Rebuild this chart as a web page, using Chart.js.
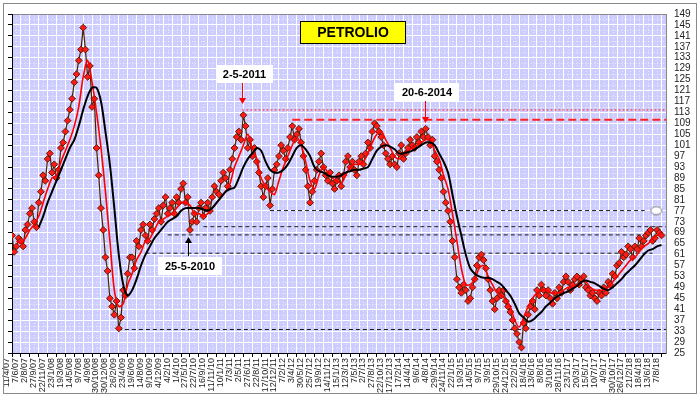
<!DOCTYPE html>
<html>
<head>
<meta charset="utf-8">
<script src="https://cdn.jsdelivr.net/npm/chart.js@4.4.0/dist/chart.umd.min.js"></script>
<style>
  html, body { margin: 0; background: #fff; }
  #wrap { width: 700px; height: 398px; }
</style>
</head>
<body>
<div id="wrap"><canvas id="chart" width="700" height="398"></canvas></div>
<script>
// x axis: one label every ~40 sessions, values are sampled every half label step
const dateLabels = ['11/4/07','7/6/07','2/8/07','27/9/07','22/11/07','23/1/08','19/3/08','14/5/08','9/7/08','4/9/08',
  '30/10/08','30/12/08','26/2/09','23/4/09','19/6/09','14/8/09','9/10/09','4/12/09','4/2/10','1/4/10',
  '27/5/10','22/7/10','16/9/10','11/11/10','10/1/11','7/3/11','2/5/11','27/6/11','22/8/11','17/10/11',
  '12/12/11','7/2/12','3/4/12','30/5/12','25/7/12','19/9/12','14/11/12','15/1/13','12/3/13','7/5/13',
  '2/7/13','27/8/13','22/10/13','17/12/13','17/2/14','14/4/14','9/6/14','4/8/14','29/9/14','24/11/14',
  '22/1/15','19/3/15','14/5/15','9/7/15','3/9/15','29/10/15','24/12/15','22/2/16','18/4/16','13/6/16',
  '8/8/16','3/10/16','28/11/16','23/1/17','20/3/17','15/5/17','10/7/17','4/9/17','30/10/17','26/12/17',
  '21/2/18','18/4/18','13/6/18','7/8/18'];

const valueTicks = [25,29,33,37,41,45,49,53,57,61,65,69,73,77,81,85,89,93,97,101,105,109,113,117,121,125,129,133,137,141,145,149];

// price read at every half label step
const priceValues = [68,64,66,70,76,73,80,90,96,91,
  89,100,106,114,124,132,144,126,115,100,
  78,60,45,39,34,48,54,60,66,70,
  68,72,74,78,79,76,80,82,85,80,
  70,76,78,75,80,82,84,88,89,92,
  100,106,112,100,97,95,86,86,79,92,
  97,99,100,108,105,102,92,80,88,95,
  93,88,87,88,86,95,93,92,95,94,
  102,106,108,104,98,94,94,98,96,100,
  101,104,106,107,101,97,92,84,77,66,
  52,47,48,45,52,60,59,52,44,45,
  46,44,40,34,29,36,39,44,48,50,
  46,45,47,49,51,51,50,53,52,49,
  46,45,47,49,51,54,57,62,61,63,
  64,67,66,69,66,70,68];

// price read in between (quarter steps), the other side of the daily swings
const priceBetween = [62,67,64,72,78,71,84,88,98,94,
  92,102,110,118,127,136,136,130,118,90,
  70,55,42,44,38,46,60,56,64,72,
  66,70,76,73,82,78,76,80,87,82,
  73,73,80,78,77,86,83,91,86,96,
  104,103,108,103,100,91,82,89,85,94,
  101,96,104,103,107,97,86,84,92,98,
  90,91,85,90,90,97,95,90,97,98,
  100,109,106,101,96,97,93,101,98,103,
  100,102,104,104,103,95,89,80,73,60,
  49,50,44,49,57,61,56,48,41,48,
  48,42,37,32,27,34,42,41,46,48,
  48,43,45,47,53,48,52,50,53,48,
  47,44,46,47,50,53,58,60,64,60,
  63,64,68,70,67,69];

const fastAverage = [null,66,65,67,70,72,75,80,85,89,
  90,95,99,103,108,115,126,132,124,113,
  100,84,66,48,42,43,50,54,59,62,
  66,67,70,73,74,75,76,78,80,80,
  79,76,76,75,76,78,80,82,84,87,
  93,97,101,105,100,96,89,86,84,83,
  88,93,97,101,104,101,95,88,85,90,
  93,91,89,88,87,90,93,94,94,95,
  98,102,105,106,103,100,97,96,98,99,
  100,101,102,103,103,99,96,90,85,76,
  66,56,50,50,52,56,57,53,50,47,
  46,44.5,42,37,34.5,38,42,45,47,48,
  48,47,47,47,48,49,49,50,51,51,
  49,48,48,48,49,51,53,55,57,59,
  60,62,64,65,67,68,69];

const slowAverage = [null,null,null,null,null,null,71,75,80,84,
  88,92,96,100,103,108,114,119,122,122,
  117,106,94,78,61,50,46,48,52,57,
  61,64,67,69,71,73,74,75,77,78,
  78,78,78,77.5,77,78,80,82,84,85,
  85.5,89,93,96,98,100,99,95,92,91,
  91,92,94,97,100,101,99.5,97,93,91.5,
  91,90,89.5,89.5,90,91,91.5,92,92,92.5,
  93,96,99,100.5,101,100.5,99.5,98,98,98.5,
  99,100,101,102,102,101,98,95,91,83,
  75,68,61,56,54,53,52.5,52.5,52,51,
  50,48,46,43,39.5,38,36.5,37,38.5,40,
  42,43.5,45,46,47,47.5,48.5,49.5,51,51.5,
  51,50.5,49.5,48.5,48,49,50.5,52,54,55.5,
  57,59,61,62.5,63,64,64.5];

// horizontal reference levels (value, first and last label position)
const levelValues = [113.9, 110.3, 77.1, 71.2, 68.2, 61.5, 33.6];
const levelFrom   = [25.9, 31.5, 29.0, 21.5, 17.5, 15.0, 11.9];
const levelTo     = [73.5, 73.5, 71.1, 73.5, 71.7, 72.0, 73.5];
const markerAt = 72.4;
const markerValue = 77.1;

// dated callouts: text, label position, arrow tip and arrow tail values
const noteTexts = ['2-5-2011', '20-6-2014', '25-5-2010'];
const noteAt    = [25.85, 46.4, 19.8];
const noteTip   = [116.1, 109.1, 67.4];
const noteTail  = [123.8, 117.2, 60.5];
const noteColor = ['#ff0000', '#ff0000', '#000000'];

const HALF = 0.5;
const asPoints = arr => arr.map((v, k) => ({ x: k * HALF, y: v }));

// half steps and quarter steps woven together, in date order
const pricePoints = [];
priceValues.forEach((v, k) => {
  pricePoints.push({ x: k * HALF, y: v });
  if (k < priceBetween.length) pricePoints.push({ x: k * HALF + HALF / 2, y: priceBetween[k] });
});

Chart.defaults.font.family = '"Liberation Sans", Arial, sans-serif';

function ellipseStyle() {
  const c = document.createElement('canvas');
  c.width = 13; c.height = 10;
  const g = c.getContext('2d');
  g.beginPath();
  g.ellipse(6.5, 5, 5.5, 4, 0, 0, Math.PI * 2);
  g.fillStyle = '#fff'; g.fill();
  g.strokeStyle = '#777'; g.lineWidth = 1; g.stroke();
  return c;
}

function drawNote(ctx, text, px, tipY, tailY, color) {
  ctx.font = 'bold 11px "Liberation Sans", Arial, sans-serif';
  const w = Math.round(ctx.measureText(text).width) + 14;
  const h = 18;
  const down = tipY > tailY;
  const boxY = down ? tailY - h : tailY + 1;
  const bx = Math.round(px - w / 2 + 2);
  ctx.fillStyle = '#fff';
  ctx.fillRect(bx, boxY, w, h);
  ctx.fillStyle = '#000';
  ctx.textAlign = 'center';
  ctx.textBaseline = 'middle';
  ctx.fillText(text, bx + w / 2, boxY + h / 2 + 1);

  const lx = Math.round(px) + 0.5;
  const head = 6;
  ctx.strokeStyle = color;
  ctx.lineWidth = 1;
  ctx.beginPath();
  ctx.moveTo(lx, tailY);
  ctx.lineTo(lx, down ? tipY - head : tipY + head);
  ctx.stroke();
  ctx.fillStyle = color;
  ctx.beginPath();
  ctx.moveTo(lx, tipY);
  ctx.lineTo(lx - 3.5, down ? tipY - head : tipY + head);
  ctx.lineTo(lx + 3.5, down ? tipY - head : tipY + head);
  ctx.closePath();
  ctx.fill();
}

const decor = {
  id: 'decor',
  beforeDraw(chart) {
    const { ctx, chartArea: a, scales: { x, y } } = chart;
    ctx.save();
    ctx.fillStyle = '#fff';
    ctx.fillRect(0, 0, chart.width, chart.height);
    ctx.fillStyle = '#ccccff';
    ctx.fillRect(a.left, a.top, a.width, a.height);
    // faint dotted lines between the main grid
    ctx.strokeStyle = 'rgba(255,255,255,0.55)';
    ctx.lineWidth = 1;
    ctx.setLineDash([1, 2]);
    ctx.beginPath();
    for (let i = 0.5; i < 73.5; i += 1) {
      const px = Math.round(x.getPixelForValue(i)) + 0.5;
      ctx.moveTo(px, a.top); ctx.lineTo(px, a.bottom);
    }
    for (let v = 27; v < 149; v += 4) {
      const py = Math.round(y.getPixelForValue(v)) + 0.5;
      ctx.moveTo(a.left, py); ctx.lineTo(a.right, py);
    }
    ctx.stroke();
    ctx.restore();
  },
  afterDraw(chart) {
    const { ctx, scales: { x, y } } = chart;
    ctx.save();
    // title box
    ctx.fillStyle = '#ffff00';
    ctx.fillRect(300, 21, 106, 23);
    ctx.strokeStyle = '#000';
    ctx.lineWidth = 1;
    ctx.strokeRect(300.5, 21.5, 105, 22);
    ctx.fillStyle = '#000';
    ctx.font = 'bold 14px "Liberation Sans", Arial, sans-serif';
    ctx.textAlign = 'center';
    ctx.textBaseline = 'middle';
    ctx.fillText('PETROLIO', 353, 33);

    noteTexts.forEach((t, n) => {
      drawNote(ctx, t, x.getPixelForValue(noteAt[n]),
        Math.round(y.getPixelForValue(noteTip[n])),
        Math.round(y.getPixelForValue(noteTail[n])), noteColor[n]);
    });

    // outer frame
    ctx.strokeStyle = '#8a8a8a';
    ctx.lineWidth = 1;
    ctx.strokeRect(3.5, 3.5, 693, 390);
    ctx.restore();
  }
};

const levelSets = levelValues.map((v, n) => ({
  data: [{ x: levelFrom[n], y: v }, { x: levelTo[n], y: v }],
  borderColor: n < 2 ? '#ff2020' : '#1a1a1a',
  borderWidth: n === 1 ? 2 : 1,
  borderDash: n === 0 ? [2, 2] : (n === 1 ? [8, 4] : [4, 3]),
  pointRadius: 0,
  order: 5
}));

new Chart(document.getElementById('chart'), {
  type: 'line',
  data: {
    datasets: [
      ...levelSets,
      {
        label: 'Petrolio',
        data: pricePoints,
        borderColor: '#4a2000',
        borderWidth: 1.2,
        pointStyle: 'rectRot',
        pointRadius: 3.4,
        pointBackgroundColor: '#ff1a1a',
        pointBorderColor: '#5e1c00',
        pointBorderWidth: 1,
        tension: 0,
        order: 3
      },
      {
        label: 'Media breve',
        data: asPoints(fastAverage),
        borderColor: '#ff0000',
        borderWidth: 1.6,
        pointRadius: 0,
        tension: 0.3,
        order: 2
      },
      {
        label: 'Media lunga',
        data: asPoints(slowAverage),
        borderColor: '#000000',
        borderWidth: 2,
        pointRadius: 0,
        tension: 0.3,
        order: 1
      },
      {
        data: [{ x: markerAt, y: markerValue }],
        showLine: false,
        pointStyle: ellipseStyle(),
        pointRadius: 5,
        order: 0
      }
    ]
  },
  options: {
    responsive: false,
    animation: false,
    layout: { padding: { top: 14, left: 0, right: 0, bottom: 0 } },
    plugins: { legend: { display: false }, tooltip: { enabled: false } },
    scales: {
      x: {
        type: 'linear',
        min: 0,
        max: 73.5,
        afterBuildTicks: s => { s.ticks = dateLabels.map((_, i) => ({ value: i })); },
        afterFit: s => { s.height = 45; },
        ticks: {
          autoSkip: false,
          minRotation: 90,
          maxRotation: 90,
          labelOffset: -5,
          padding: 1,
          color: '#222',
          font: { size: 9 },
          callback: v => dateLabels[v] ?? ''
        },
        grid: {
          color: c => (c.tick && c.tick.value === 0) ? 'rgba(0,0,0,0)' : '#ffffff',
          tickColor: '#000',
          tickLength: 4
        },
        border: { color: '#000' }
      },
      yl: {
        type: 'linear',
        position: 'left',
        min: 25,
        max: 149,
        afterBuildTicks: s => { s.ticks = valueTicks.map(v => ({ value: v })); },
        afterFit: s => { s.width = 12; },
        ticks: { display: false, autoSkip: false },
        grid: { drawOnChartArea: false, color: '#000', tickLength: 4 },
        border: { color: '#000' }
      },
      y: {
        type: 'linear',
        position: 'right',
        min: 25,
        max: 149,
        afterBuildTicks: s => { s.ticks = valueTicks.map(v => ({ value: v })); },
        afterFit: s => { s.width = 34; },
        ticks: { autoSkip: false, padding: 8, color: '#222', font: { size: 10 } },
        grid: {
          drawTicks: false,
          color: c => {
            const v = c.tick && c.tick.value;
            if (v === 25) return 'rgba(0,0,0,0)';
            if (v === 149) return '#888';
            return '#ffffff';
          }
        },
        border: { color: '#888' }
      }
    }
  },
  plugins: [decor]
});
</script>
</body>
</html>
